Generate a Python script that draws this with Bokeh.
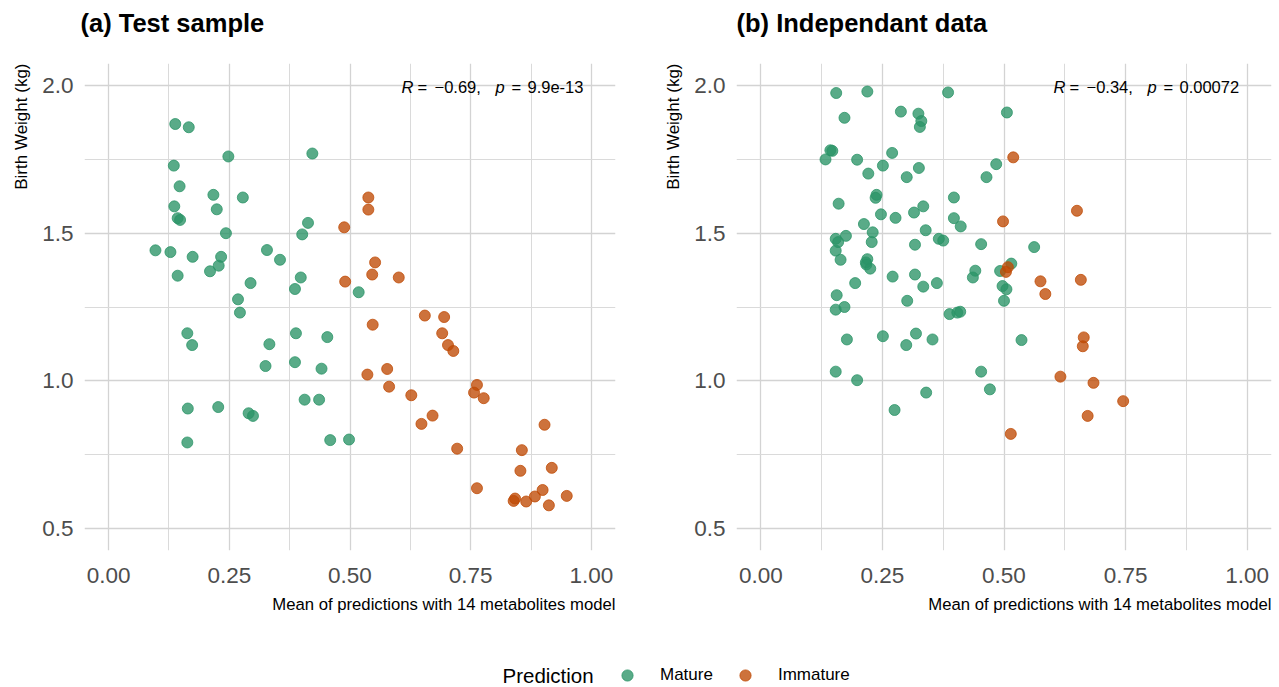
from bokeh.plotting import figure
from bokeh.models import (Range1d, Title, Label, Legend, LegendItem, FixedTicker,
                          PrintfTickFormatter, ColumnDataSource)
from bokeh.layouts import column, row
from bokeh.embed import file_html
from bokeh.resources import INLINE

FONT = "Liberation Sans"
GREEN = "#2A9467"
ORANGE = "#BF4A05"
ALPHA = 0.78

# ---------------- data ----------------
# (a) Test sample
a_mature_x = [0.138, 0.166, 0.248, 0.422, 0.135, 0.147, 0.217, 0.278, 0.136, 0.224,
              0.143, 0.148, 0.243, 0.413, 0.401, 0.097, 0.128, 0.174, 0.233, 0.228,
              0.210, 0.328, 0.355, 0.143, 0.294, 0.398, 0.386, 0.518, 0.268, 0.272,
              0.163, 0.173, 0.333, 0.388, 0.453, 0.325, 0.386, 0.441, 0.164, 0.227,
              0.290, 0.299, 0.406, 0.436, 0.163, 0.459, 0.498]
a_mature_y = [1.870, 1.859, 1.760, 1.770, 1.729, 1.659, 1.630, 1.621, 1.591, 1.581,
              1.551, 1.545, 1.500, 1.535, 1.496, 1.442, 1.436, 1.420, 1.420, 1.390,
              1.371, 1.443, 1.410, 1.356, 1.331, 1.350, 1.311, 1.300, 1.276, 1.231,
              1.161, 1.121, 1.124, 1.161, 1.148, 1.050, 1.063, 1.041, 0.906, 0.911,
              0.890, 0.881, 0.936, 0.936, 0.791, 0.799, 0.801]
a_immature_x = [0.488, 0.490, 0.538, 0.538, 0.552, 0.546, 0.601, 0.655, 0.695, 0.547,
                0.691, 0.703, 0.714, 0.577, 0.536, 0.581, 0.627, 0.763, 0.757, 0.777,
                0.671, 0.648, 0.903, 0.722, 0.856, 0.918, 0.853, 0.763, 0.899, 0.883,
                0.949, 0.842, 0.839, 0.865, 0.912]
a_immature_y = [1.520, 1.336, 1.621, 1.580, 1.401, 1.360, 1.350, 1.221, 1.216, 1.190,
                1.161, 1.121, 1.101, 1.040, 1.021, 0.980, 0.951, 0.986, 0.960, 0.941,
                0.882, 0.854, 0.851, 0.770, 0.765, 0.705, 0.695, 0.636, 0.630, 0.608,
                0.610, 0.601, 0.593, 0.591, 0.578]

# (b) Independant data
b_mature_x = [0.155, 0.219, 0.385, 0.288, 0.324, 0.330, 0.327, 0.172, 0.506, 0.143,
              0.147, 0.133, 0.198, 0.270, 0.251, 0.221, 0.325, 0.300, 0.484, 0.464,
              0.238, 0.236, 0.160, 0.397, 0.247, 0.277, 0.315, 0.334, 0.397, 0.411,
              0.212, 0.230, 0.339, 0.175, 0.154, 0.159, 0.228, 0.154, 0.164, 0.317,
              0.366, 0.375, 0.453, 0.219, 0.216, 0.217, 0.225, 0.271, 0.317, 0.194,
              0.334, 0.362, 0.441, 0.436, 0.492, 0.156, 0.301, 0.497, 0.505, 0.500,
              0.154, 0.172, 0.388, 0.404, 0.410, 0.177, 0.251, 0.299, 0.319, 0.353,
              0.154, 0.198, 0.340, 0.275, 0.453, 0.471, 0.562, 0.515, 0.536]
b_mature_y = [1.975, 1.980, 1.977, 1.912, 1.905, 1.880, 1.860, 1.891, 1.909, 1.781,
              1.779, 1.750, 1.749, 1.772, 1.729, 1.702, 1.721, 1.690, 1.734, 1.690,
              1.630, 1.620, 1.600, 1.621, 1.564, 1.552, 1.570, 1.591, 1.551, 1.523,
              1.531, 1.503, 1.510, 1.491, 1.481, 1.470, 1.470, 1.441, 1.410, 1.461,
              1.481, 1.475, 1.463, 1.412, 1.401, 1.394, 1.380, 1.353, 1.360, 1.331,
              1.319, 1.331, 1.373, 1.350, 1.372, 1.290, 1.271, 1.321, 1.310, 1.271,
              1.241, 1.250, 1.226, 1.231, 1.234, 1.140, 1.151, 1.121, 1.160, 1.140,
              1.031, 1.002, 0.960, 0.901, 1.031, 0.971, 1.453, 1.397, 1.138]
b_immature_x = [0.519, 0.650, 0.498, 0.508, 0.504, 0.575, 0.658, 0.585, 0.664, 0.662,
                0.616, 0.684, 0.745, 0.672, 0.514]
b_immature_y = [1.757, 1.576, 1.540, 1.385, 1.369, 1.337, 1.342, 1.294, 1.147, 1.117,
                1.014, 0.993, 0.931, 0.881, 0.820]

titles = ["(a) Test sample", "(b) Independant data"]
r_values = ["\u22120.69,", "\u22120.34,"]
p_values = ["9.9e-13", "0.00072"]
x_ticks = [0.0, 0.25, 0.5, 0.75, 1.0]
x_minor = [0.125, 0.375, 0.625, 0.875]
y_ticks = [0.5, 1.0, 1.5, 2.0]
y_minor = [0.75, 1.25, 1.75]
x_label = "Mean of predictions with 14 metabolites model"
y_label = "Birth Weight (kg)"
legend_title = "Prediction"
classes = ["Mature", "Immature"]

TITLE_H = 40
PANEL_H = 587
FRAME_H = 487
TOP = 23


def make_panel(mx, my, ix, iy, r_txt, p_txt, width, left):
    p = figure(width=width, height=PANEL_H, output_backend="svg", toolbar_location=None,
               x_range=Range1d(-0.05, 1.05), y_range=Range1d(0.425, 2.075),
               min_border_left=left, min_border_right=width - left - 535,
               min_border_top=TOP, min_border_bottom=PANEL_H - TOP - FRAME_H)
    p.outline_line_color = None
    p.border_fill_color = "white"
    p.background_fill_color = "white"

    for ax in (p.xaxis[0], p.yaxis[0]):
        ax.axis_line_color = None
        ax.major_tick_line_color = None
        ax.minor_tick_line_color = None
        ax.major_label_text_font = FONT
        ax.major_label_text_font_size = "22.5px"
        ax.major_label_text_color = "#4D4D4D"
    p.xaxis[0].ticker = FixedTicker(ticks=x_ticks, minor_ticks=x_minor)
    p.yaxis[0].ticker = FixedTicker(ticks=y_ticks, minor_ticks=y_minor)
    p.xaxis[0].formatter = PrintfTickFormatter(format="%.2f")
    p.yaxis[0].formatter = PrintfTickFormatter(format="%.1f")
    p.xaxis[0].major_label_standoff = 11
    p.yaxis[0].major_label_standoff = 5

    for g in (p.xgrid[0], p.ygrid[0]):
        g.grid_line_color = "#D3D3D3"
        g.grid_line_width = 1.3
        g.minor_grid_line_color = "#DADADA"
        g.minor_grid_line_width = 1.0

    p.add_layout(Title(text=x_label, align="right", text_font=FONT, text_font_size="16.7px",
                       text_font_style="normal", text_color="black", standoff=15), "below")
    p.add_layout(Title(text=y_label, align="right", text_font=FONT, text_font_size="17px",
                       text_font_style="normal", text_color="black", standoff=18), "left")

    src_m = ColumnDataSource(dict(x=mx, y=my))
    src_i = ColumnDataSource(dict(x=ix, y=iy))
    p.scatter("x", "y", source=src_m, size=11, fill_color=GREEN, fill_alpha=ALPHA,
              line_color=GREEN, line_alpha=ALPHA, line_width=1)
    p.scatter("x", "y", source=src_i, size=11, fill_color=ORANGE, fill_alpha=ALPHA,
              line_color=ORANGE, line_alpha=ALPHA, line_width=1)

    # correlation annotation (R and p in italics)
    ytop = 464
    parts = [("R", "italic", 317), ("=", "normal", 333), (r_txt, "normal", 350),
             ("p", "italic", 411), ("=", "normal", 427), (p_txt, "normal", 443)]
    for txt, style, xo in parts:
        p.add_layout(Label(x=xo, y=ytop, x_units="screen", y_units="screen", text=txt,
                           text_font=FONT, text_font_size="16.5px", text_font_style=style,
                           text_baseline="middle", text_align="left", text_color="black"))
    return p


def strip(height):
    s = figure(width=1279, height=height, output_backend="svg", toolbar_location=None,
               x_range=Range1d(0, 1), y_range=Range1d(0, 1),
               x_axis_location=None, y_axis_location=None,
               min_border=0, min_border_left=0, min_border_right=0,
               min_border_top=0, min_border_bottom=0)
    s.outline_line_color = None
    s.xgrid.visible = False
    s.ygrid.visible = False
    return s


# title strip
top = strip(TITLE_H)
for txt, xo in zip(titles, [80, 736]):
    top.add_layout(Label(x=xo, y=TITLE_H - 22, x_units="screen", y_units="screen", text=txt,
                         text_font=FONT, text_font_size="25.5px", text_font_style="bold",
                         text_color="black", text_baseline="middle", text_align="left"))

pa = make_panel(a_mature_x, a_mature_y, a_immature_x, a_immature_y,
                r_values[0], p_values[0], 640, 80)
pb = make_panel(b_mature_x, b_mature_y, b_immature_x, b_immature_y,
                r_values[1], p_values[1], 639, 96)

# legend strip (proxy renderers carry no visible data)
leg = strip(60)
nan = float("nan")
rm = leg.scatter(x=[nan], y=[nan], size=11, fill_color=GREEN, fill_alpha=ALPHA,
                 line_color=GREEN, line_alpha=ALPHA)
ri = leg.scatter(x=[nan], y=[nan], size=11, fill_color=ORANGE, fill_alpha=ALPHA,
                 line_color=ORANGE, line_alpha=ALPHA)
legend = Legend(items=[LegendItem(label=classes[0], renderers=[rm]),
                       LegendItem(label=classes[1], renderers=[ri])],
                orientation="horizontal", location=(613, -2),
                glyph_width=28, glyph_height=28, label_standoff=19, spacing=18,
                padding=0, margin=0, border_line_color=None, background_fill_alpha=0,
                label_text_font=FONT, label_text_font_size="17px", label_text_color="black")
leg.add_layout(legend, "center")
leg.add_layout(Label(x=502, y=12, x_units="screen", y_units="screen", text=legend_title,
                     text_font=FONT, text_font_size="20.5px", text_baseline="middle",
                     text_align="left", text_color="black"))

layout = column(top, row(pa, pb), leg)
open("out.html", "w").write(file_html(layout, INLINE))
